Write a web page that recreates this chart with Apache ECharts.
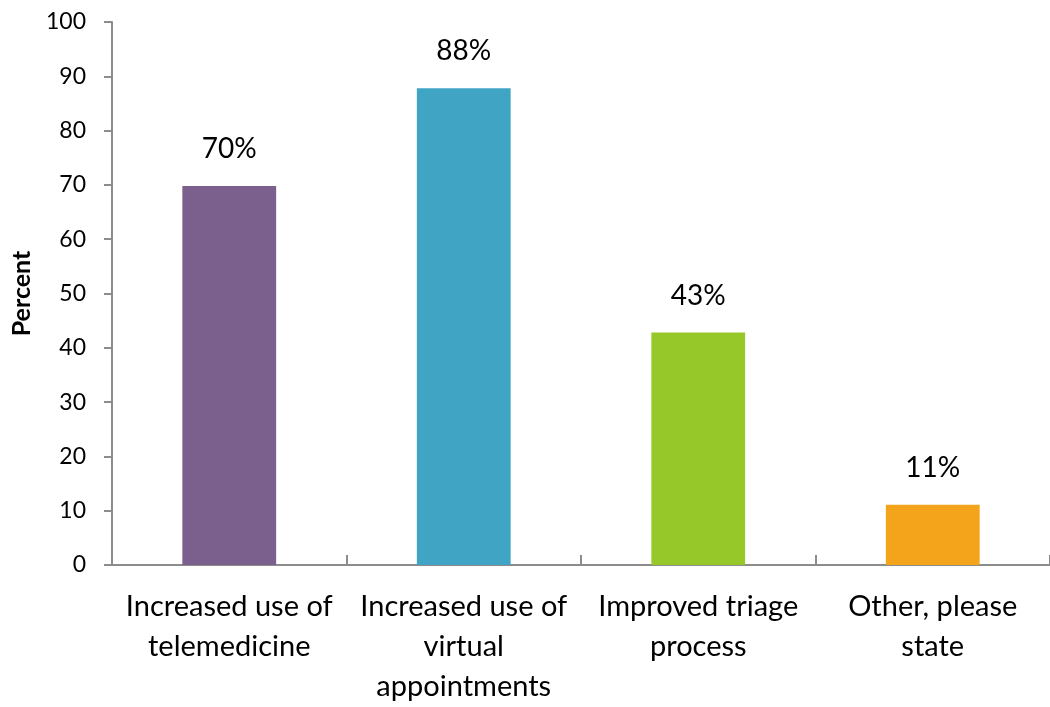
<!DOCTYPE html>
<html>
<head>
<meta charset="utf-8">
<script src="https://cdn.jsdelivr.net/npm/echarts@6/dist/echarts.min.js"></script>
<style>html,body{margin:0;padding:0;background:#fff}#c{width:1050px;height:707px}</style>
</head>
<body>
<div id="c"></div>
<script>
var categories = ["Increased use of\ntelemedicine", "Increased use of\nvirtual\nappointments", "Improved triage\nprocess", "Other, please\nstate"];
var values = [69.8, 87.8, 42.8, 11.1];
var labels = ["70%", "88%", "43%", "11%"];
var colors = ["#7B5F8C", "#40A4C4", "#97C829", "#F4A41B"];
var yTicks = [0, 10, 20, 30, 40, 50, 60, 70, 80, 90, 100];

var font = "Lato, 'Open Sans', sans-serif";
var chart = echarts.init(document.getElementById('c'));
chart.setOption({
  animation: false,
  grid: {left: 112, width: 946, top: 22, height: 549, containLabel: false},
  xAxis: {
    type: 'category',
    data: categories,
    axisLine: {lineStyle: {color: '#8c8c8c', width: 2}},
    axisTick: {show: true, inside: true, length: 10, lineStyle: {color: '#8c8c8c', width: 2}},
    axisLabel: {color: '#000', fontSize: 29, fontFamily: font, lineHeight: 40, margin: 22, interval: 0}
  },
  yAxis: {
    type: 'value',
    min: yTicks[0], max: yTicks[yTicks.length - 1], interval: 10,
    name: 'Percent', nameLocation: 'middle', nameGap: 78, nameRotate: 90,
    nameTextStyle: {color: '#000', fontSize: 25, fontWeight: 'bold', fontFamily: font},
    splitLine: {show: false},
    axisLine: {show: true, lineStyle: {color: '#8c8c8c', width: 2}},
    axisTick: {show: true, length: 8, lineStyle: {color: '#8c8c8c', width: 2}},
    axisLabel: {color: '#000', fontSize: 23, fontFamily: font, margin: 26}
  },
  series: [{
    type: 'bar',
    barWidth: '40%',
    data: values.map(function (v, i) { return {value: v, itemStyle: {color: colors[i]}}; }),
    label: {
      show: true, position: 'top', distance: 23, color: '#000', fontSize: 28, fontFamily: font,
      formatter: function (p) { return labels[p.dataIndex]; }
    }
  }]
});
</script>
</body>
</html>
